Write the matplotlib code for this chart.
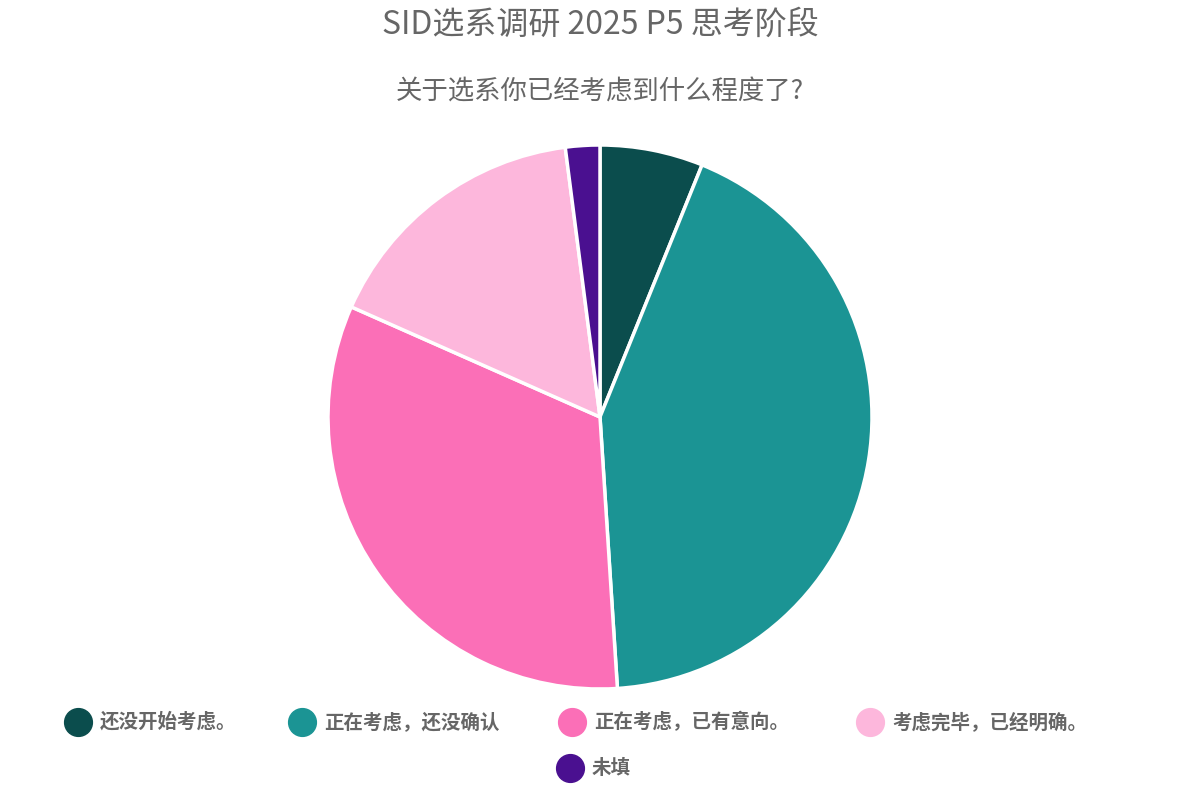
import matplotlib
matplotlib.use("Agg")
import matplotlib.pyplot as plt
from matplotlib.lines import Line2D

plt.rcParams["font.family"] = ["Noto Sans CJK SC", "DejaVu Sans"]

title = "SID选系调研 2025 P5 思考阶段"
subtitle = "关于选系你已经考虑到什么程度了?"
categories = ["还没开始考虑。", "正在考虑，还没确认", "正在考虑，已有意向。", "考虑完毕，已经明确。", "未填"]
values = [3, 21, 16, 8, 1]
colors = ["#0b4d4d", "#1b9494", "#fb6fb7", "#fdb7dc", "#4a1090"]

W, H = 1200, 800
fig = plt.figure(figsize=(12, 8), dpi=100)
cx, cy, r = 600, 417, 272
ax = fig.add_axes([(cx - r) / W, (H - cy - r) / H, 2 * r / W, 2 * r / H])
ax.pie(values, colors=colors, startangle=90, counterclock=False, radius=1,
       wedgeprops=dict(edgecolor="white", linewidth=2.5))
ax.set_xlim(-1, 1); ax.set_ylim(-1, 1); ax.set_aspect("equal"); ax.axis("off")

fig.text(0.5, 1 - 25 / H, title, ha="center", va="center", fontsize=23, color="#666666")
fig.text(0.5, 1 - 92 / H, subtitle, ha="center", va="center", fontsize=19, color="#666666")

pos = [(78, 722), (302, 722), (572, 722), (870, 722), (570, 768)]
for (x, y), c, lab in zip(pos, colors, categories):
    fig.add_artist(Line2D([x / W], [1 - y / H], marker="o", markersize=20, color=c,
                          linestyle="none", transform=fig.transFigure))
    fig.text((x + 22) / W, 1 - y / H, lab, ha="left", va="center", fontsize=14,
             color="#666666", fontweight="bold")

fig.savefig("out.png", dpi=100, facecolor="white")
